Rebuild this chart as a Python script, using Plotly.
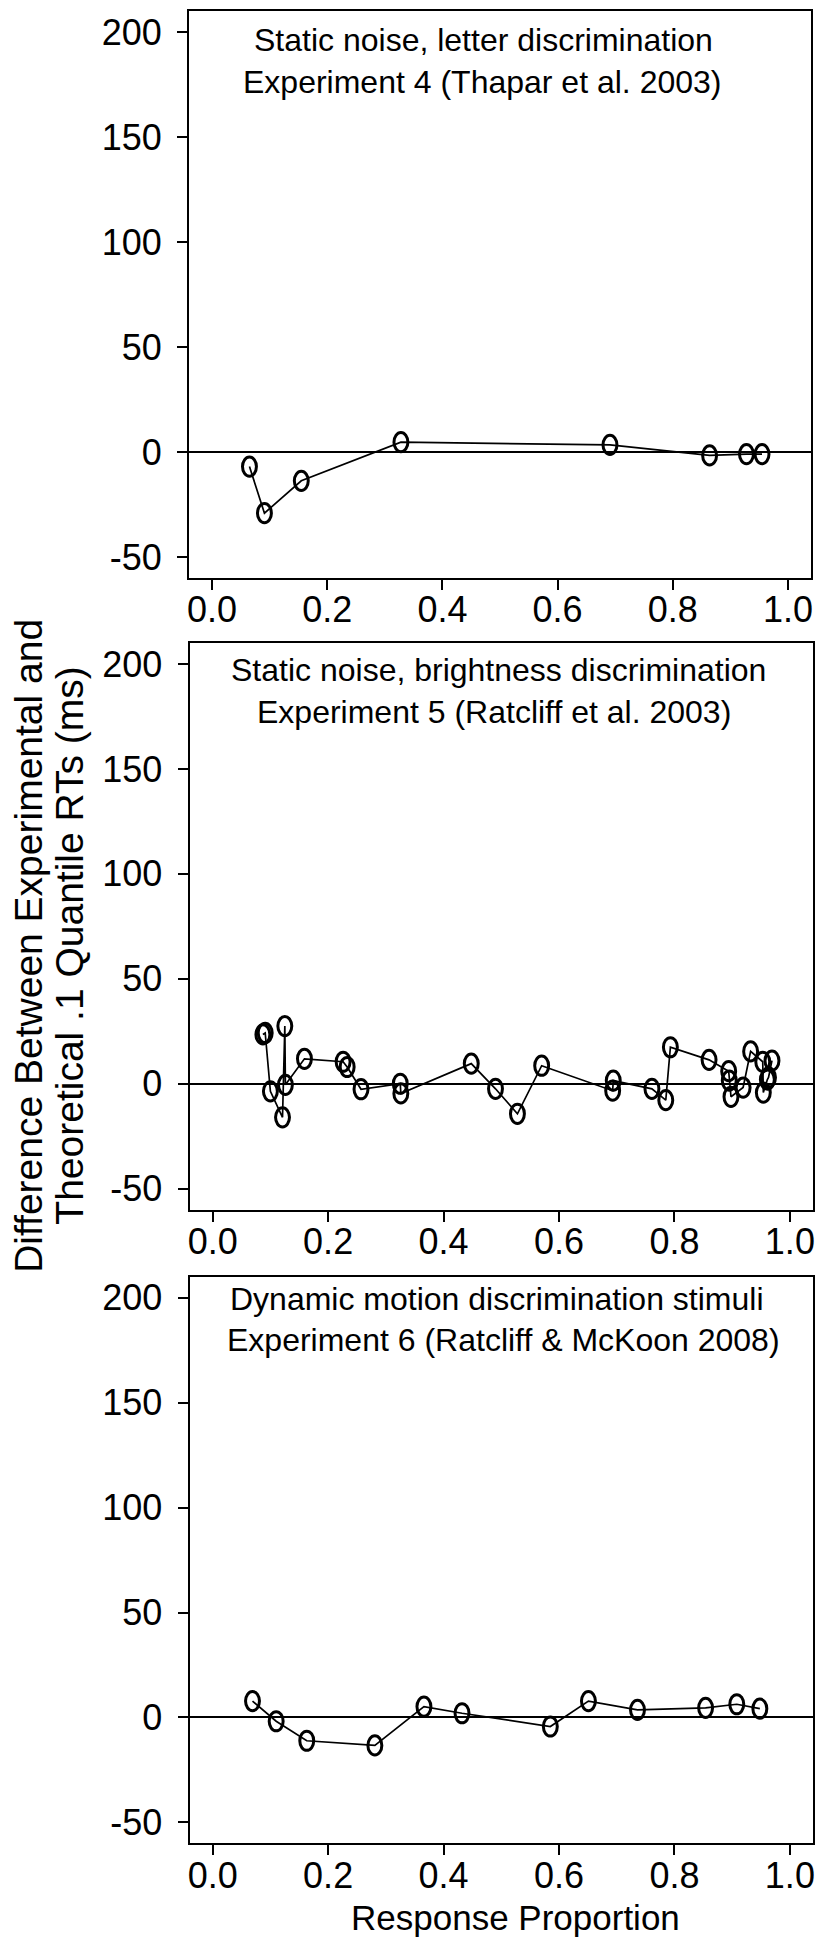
import plotly.graph_objects as go

# ---- data: response proportion vs. difference (ms) ----
exp4_x = [0.065, 0.091, 0.155, 0.328, 0.691, 0.864, 0.928, 0.955]
exp4_y = [-6.9, -29.1, -13.7, 4.7, 3.4, -1.6, -1.0, -1.0]

exp5_x = [0.087, 0.091, 0.100, 0.121, 0.125, 0.126, 0.159, 0.226, 0.233, 0.257,
          0.325, 0.326, 0.448, 0.490, 0.528, 0.570, 0.693, 0.694, 0.761, 0.785,
          0.793, 0.860, 0.894, 0.895, 0.898, 0.919, 0.932, 0.953, 0.954, 0.961,
          0.963, 0.969]
exp5_y = [23.5, 24.2, -3.6, -16.0, 27.5, -0.5, 11.9, 10.5, 8.0, -2.6,
          0.0, -4.6, 9.6, -2.4, -14.3, 8.6, -3.3, 1.5, -2.4, -7.8,
          17.4, 11.4, 6.0, 1.5, -6.2, -1.8, 15.4, 10.5, -4.2, 2.0,
          3.0, 11.0]

exp6_x = [0.069, 0.110, 0.163, 0.281, 0.366, 0.432, 0.585, 0.651, 0.736, 0.854, 0.908, 0.948]
exp6_y = [7.8, -1.8, -11.1, -13.3, 5.2, 2.0, -4.3, 7.8, 3.6, 4.6, 6.3, 4.2]

titles = [
    ("Static noise, letter discrimination", "Experiment 4 (Thapar et al. 2003)"),
    ("Static noise, brightness discrimination", "Experiment 5 (Ratcliff et al. 2003)"),
    ("Dynamic motion discrimination stimuli", "Experiment 6 (Ratcliff & McKoon 2008)"),
]
x_ticks = [0.0, 0.2, 0.4, 0.6, 0.8, 1.0]
y_ticks = [-50, 0, 50, 100, 150, 200]
y_label_lines = ["Difference Between Experimental and", "Theoretical .1 Quantile RTs (ms)"]
x_label = "Response Proportion"

# ---- page geometry (pixels) ----
W, H = 827, 1940
X_RANGE = [-0.04, 1.04]
Y_RANGE = [-60, 210]
FONT = "Liberation Sans, Arial, Helvetica, sans-serif"

# plot boxes: left, right, top, bottom
boxes = [
    (187.9, 812.9, 11.3, 578.0),
    (188.5, 814.9, 643.0, 1209.7),
    (188.5, 814.9, 1276.7, 1843.4),
]
# title line centres (x of line 1 and 2, y of line 1, y of line 2)
title_pos = [
    ((484, 482), 40, 82),
    ((499, 494), 670, 712),
    ((497, 504), 1299, 1340),
]

series = [(exp4_x, exp4_y), (exp5_x, exp5_y), (exp6_x, exp6_y)]

fig = go.Figure()
shapes = []
annotations = []
layout_axes = {}

RX, RY = 7.0, 9.6  # half-axes of the open oval markers, px

for i, ((xs, ys), (l, r, t, b)) in enumerate(zip(series, boxes)):
    n = "" if i == 0 else str(i + 1)
    xa, ya = "x" + n, "y" + n
    fig.add_trace(go.Scatter(
        x=xs, y=ys, xaxis=xa, yaxis=ya, mode="lines",
        line=dict(color="black", width=1.7), showlegend=False,
        hoverinfo="x+y",
    ))
    # data units per pixel on this panel
    dx = (X_RANGE[1] - X_RANGE[0]) / (r - l)
    dy = (Y_RANGE[1] - Y_RANGE[0]) / (b - t)
    for xv, yv in zip(xs, ys):
        shapes.append(dict(
            type="circle", xref=xa, yref=ya,
            x0=xv - RX * dx, x1=xv + RX * dx,
            y0=yv - RY * dy, y1=yv + RY * dy,
            line=dict(color="black", width=3), fillcolor="rgba(0,0,0,0)",
            layer="above",
        ))
    common = dict(
        showgrid=False, showline=True, mirror=True, linecolor="black", linewidth=2,
        ticks="outside", ticklen=10, tickwidth=2, tickcolor="black",
        tickfont=dict(family=FONT, size=36, color="black"),
    )
    layout_axes["xaxis" + n] = dict(
        common, range=X_RANGE, domain=[l / W, r / W], anchor=ya,
        tickvals=x_ticks, ticktext=[f"{v:.1f}" for v in x_ticks],
        zeroline=False, ticklabelstandoff=-11,
    )
    layout_axes["yaxis" + n] = dict(
        common, range=Y_RANGE, domain=[1 - b / H, 1 - t / H], anchor=xa,
        tickvals=y_ticks, ticktext=[str(v) for v in y_ticks],
        zeroline=True, zerolinecolor="black", zerolinewidth=1.8,
        ticklabelstandoff=8,
    )
    (cx1, cx2), ty1, ty2 = title_pos[i]
    for txt, cx, cy in ((titles[i][0], cx1, ty1), (titles[i][1], cx2, ty2)):
        annotations.append(dict(
            text=txt, xref="paper", yref="paper", x=cx / W, y=1 - cy / H,
            xanchor="center", yanchor="middle", showarrow=False,
            font=dict(family=FONT, size=32, color="black"),
        ))

# rotated two-line y-axis title, one annotation per line
for txt, cx in zip(y_label_lines, (26, 67)):
    annotations.append(dict(
        text=txt, xref="paper", yref="paper", x=cx / W, y=1 - 946 / H,
        xanchor="center", yanchor="middle", textangle=-90, showarrow=False,
        font=dict(family=FONT, size=39, color="black"),
    ))
annotations.append(dict(
    text=x_label, xref="paper", yref="paper", x=516 / W, y=1 - 1917 / H,
    xanchor="center", yanchor="middle", showarrow=False,
    font=dict(family=FONT, size=35, color="black"),
))

fig.update_layout(
    width=W, height=H, margin=dict(l=0, r=0, t=0, b=0),
    paper_bgcolor="white", plot_bgcolor="white",
    shapes=shapes, annotations=annotations, showlegend=False,
    **layout_axes,
)

fig.write_html("out.html")
